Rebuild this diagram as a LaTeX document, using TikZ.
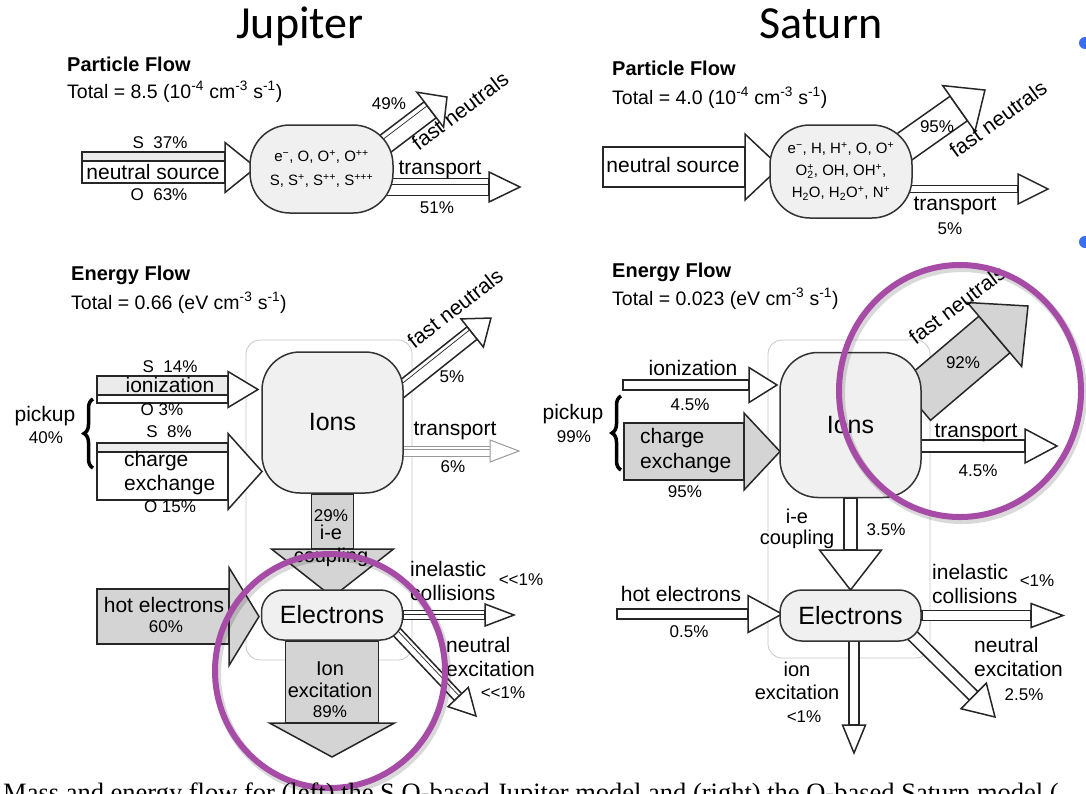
\documentclass[tikz,border=0pt]{standalone}
\usepackage{fontspec}
\setmainfont{Liberation Sans}
\newfontfamily\titlefont{Carlito}
\newfontfamily\captionfont{Liberation Serif}
\usepackage{tikz}
\usetikzlibrary{
  calc,
  backgrounds,
  decorations.pathreplacing,
}

\definecolor{ringpurple}{RGB}{166,76,166}
\definecolor{bulletblue}{RGB}{58,110,240}

% fat flow arrow: [style]{tail}{tip}{half shaft}{half head}{head length}
\newcommand{\flowarrow}[6][]{%
  \path let \p1=(#2), \p2=(#3) in \pgfextra{%
    \pgfmathsetmacro\flowang{atan2(\y2-\y1,\x2-\x1)}%
    \pgfmathsetmacro\flowlen{veclen(\x2-\x1,\y2-\y1)}%
    \xdef\flowang{\flowang}\xdef\flowlen{\flowlen}};%
  \xdef\flowhead{#6}%
  \begin{scope}[shift={(#2)}, rotate=\flowang]
    \draw[flowbody, #1] (0,-#4) rectangle ({\flowlen-#6},#4);
    \draw[flowbody, #1] ({\flowlen-#6},-#5) -- (\flowlen,0) -- ({\flowlen-#6},#5) -- cycle;
  \end{scope}}
% strip inside the shaft of the last flow arrow
\newcommand{\flowstrip}[4][]{%
  \begin{scope}[shift={(#2)}, rotate=\flowang]
    \draw[flowbody, #1] (0,#3) rectangle ({\flowlen-\flowhead},#4);
  \end{scope}}
% thin line along the shaft of the last flow arrow
\newcommand{\flowsplit}[3][]{%
  \begin{scope}[shift={(#2)}, rotate=\flowang]
    \draw[flowbody, line width=0.7pt, #1] (0,#3) -- ({\flowlen-\flowhead},#3);
  \end{scope}}

\begin{document}
\begin{tikzpicture}[
  x=1pt, y=-1pt,
  flowbody/.style={draw=black!85, line width=1.5pt, fill=white, line join=miter},
  grayfill/.style={fill=black!17},
  stripfill/.style={fill=black!8},
  pane/.style={draw=black!22, line width=0.8pt, rounded corners=14pt},
  blob/.style={draw=black!80, line width=1.5pt, fill=black!6, inner sep=0pt},
  lbl/.style={inner sep=0pt, font=\fontsize{21}{24}\selectfont},
  pct/.style={inner sep=0pt, font=\fontsize{17}{19}\selectfont},
  big/.style={font=\fontsize{25}{27}\selectfont},
  spec/.style={align=center, font=\fontsize{15}{24}\selectfont},
  heading/.style={inner sep=0pt, anchor=west, font=\bfseries\fontsize{20}{22}\selectfont},
  total/.style={inner sep=0pt, anchor=west, font=\fontsize{19.5}{22}\selectfont},
  planet/.style={inner sep=0pt, anchor=base, font=\titlefont\fontsize{46}{48}\selectfont},
  ring/.style={draw=ringpurple, line width=6pt},
  bracket/.style={line width=3.5pt, decorate, decoration={brace, amplitude=9pt}},
]
  \useasboundingbox (0,0) rectangle (1086,793);

  % Titles
  \node[planet] (jupiter) at (300,38) {Jupiter};
  \node[planet] (saturn)  at (821,38) {Saturn};

  % Arrow ends
  \coordinate (jpNSTail) at (82,167.5);   \coordinate (jpNSTip) at (256,167.5);
  \coordinate (jpFNTail) at (372,154);    \coordinate (jpFNTip) at (447,97);
  \coordinate (jpTrTail) at (385,187);    \coordinate (jpTrTip) at (520,187);
  \coordinate (spNSTail) at (603,167);    \coordinate (spNSTip) at (780,167);
  \coordinate (spFNTail) at (890,157);    \coordinate (spFNTip) at (985,90);
  \coordinate (spTrTail) at (900,189);    \coordinate (spTrTip) at (1048,189);
  \coordinate (jeIzTail) at (97,389.5);   \coordinate (jeIzTip) at (258,389.5);
  \coordinate (jeCXTail) at (97,471.5);   \coordinate (jeCXTip) at (262,471.5);
  \coordinate (jeFNTail) at (398,392);    \coordinate (jeFNTip) at (491,318);
  \coordinate (jeTrTail) at (400,451);    \coordinate (jeTrTip) at (519,451);
  \coordinate (jeIETip) at (332.5,597);
  \coordinate (jeHotTail) at (97,616.5);  \coordinate (jeHotTip) at (259,616.5);
  \coordinate (jeIXTip) at (332,757);
  \coordinate (jeInTip) at (514,615);
  \coordinate (jeNXTail) at (393,628);    \coordinate (jeNXTip) at (476,716);
  \coordinate (seIzTail) at (623,385);    \coordinate (seIzTip) at (777,385);
  \coordinate (seCXTail) at (624,451.5);  \coordinate (seCXTip) at (780,451.5);
  \coordinate (seFNTail) at (915,402);    \coordinate (seFNTip) at (1028,306);
  \coordinate (seTrTail) at (921,446);    \coordinate (seTrTip) at (1057,446);
  \coordinate (seIETip) at (850.5,590);
  \coordinate (seHotTail) at (617,614);   \coordinate (seHotTip) at (782,614);
  \coordinate (seInTip) at (1063,615.5);
  \coordinate (seNXTail) at (910,633);    \coordinate (seNXTip) at (995,717);
  \coordinate (seIXTail) at (854,640);    \coordinate (seIXTip) at (854,753);
  \coordinate (jeBraceLow) at (93,468);   \coordinate (jeBraceHigh) at (93,399);
  \coordinate (seBraceLow) at (621,470);  \coordinate (seBraceHigh) at (621,396);

  % Boxes
  \node[blob, spec, rounded corners=40pt, minimum width=143pt, minimum height=88pt] (jpBlob) at (321.5,169)
    {e\textsuperscript{−}, O, O\textsuperscript{+}, O\textsuperscript{++}\\S, S\textsuperscript{+}, S\textsuperscript{++}, S\textsuperscript{+++}};
  \node[blob, spec, font=\fontsize{15}{22}\selectfont, rounded corners=40pt, minimum width=142pt, minimum height=93pt] (spBlob) at (841,171.5)
    {e\textsuperscript{−}, H, H\textsuperscript{+}, O, O\textsuperscript{+}\\O\rlap{\textsubscript{2}}\textsuperscript{+}, OH, OH\textsuperscript{+},\\H\textsubscript{2}O, H\textsubscript{2}O\textsuperscript{+}, N\textsuperscript{+}};
  \node[blob, big, rounded corners=38pt, minimum width=141pt, minimum height=141pt] (jeIons) at (332.5,422.5) {Ions};
  \node[blob, big, rounded corners=22pt, minimum width=141pt, minimum height=50pt]  (jeElec) at (332,615) {Electrons};
  \node[blob, big, rounded corners=38pt, minimum width=141pt, minimum height=145pt] (seIons) at (850.5,425) {Ions};
  \node[blob, big, rounded corners=22pt, minimum width=141pt, minimum height=51pt]  (seElec) at (850.5,615.5) {Electrons};

  \begin{scope}[on background layer]
    \draw[pane] (246,340) rectangle (412,660);
    \draw[pane] (768,340) rectangle (930,658);

    % Jupiter particle flow
    \flowarrow{jpNSTail}{jpNSTip}{15.5}{25}{31}
    \flowstrip[stripfill]{jpNSTail}{-15.5}{-6.5}
    \flowarrow{jpFNTail}{jpFNTip}{10}{22}{21}
    \flowsplit{jpFNTail}{-5}
    \flowarrow{jpTrTail}{jpTrTip}{8.5}{15}{31}
    \flowsplit{jpTrTail}{-3}

    % Saturn particle flow
    \flowarrow{spNSTail}{spNSTip}{20}{33}{35}
    \flowarrow{spFNTail}{spFNTip}{15}{28}{32}
    \flowarrow{spTrTail}{spTrTip}{3.5}{15}{30}

    % Jupiter energy flow
    \flowarrow{jeIzTail}{jeIzTip}{13.5}{18}{30}
    \flowstrip[stripfill]{jeIzTail}{-13.5}{5.5}
    \flowarrow{jeCXTail}{jeCXTip}{28.5}{38}{34}
    \flowstrip[stripfill]{jeCXTail}{-28.5}{-19.5}
    \flowarrow{jeFNTail}{jeFNTip}{8}{18}{24}
    \flowsplit{jeFNTail}{-4}
    \flowarrow[draw=black!40, line width=1pt]{jeTrTail}{jeTrTip}{5}{11}{29}
    \flowsplit[draw=black!40]{jeTrTail}{-1.5}
    \flowarrow[grayfill]{jeIons.south}{jeIETip}{21}{61}{48}
    \flowarrow[grayfill]{jeHotTail}{jeHotTip}{27.5}{49}{30}
    \flowarrow[grayfill]{jeElec.south}{jeIXTip}{46.5}{62.5}{34}
    \flowarrow{jeElec.east}{jeInTip}{4.5}{11}{29}
    \flowsplit{jeElec.east}{-1}
    \flowarrow{jeNXTail}{jeNXTip}{5}{14}{26}
    \flowsplit{jeNXTail}{-1.5}

    % Saturn energy flow
    \flowarrow{seIzTail}{seIzTip}{5}{17.5}{28}
    \flowarrow[grayfill]{seCXTail}{seCXTip}{28.5}{38.5}{36}
    \flowarrow[grayfill]{seFNTail}{seFNTip}{24}{42}{44}
    \flowarrow{seTrTail}{seTrTip}{6}{17}{32}
    \flowarrow{seIons.south}{seIETip}{6.5}{31}{40}
    \flowarrow{seHotTail}{seHotTip}{5}{18.5}{34}
    \flowarrow{seElec.east}{seInTip}{5}{12}{32}
    \flowarrow{seNXTail}{seNXTip}{6}{18}{30}
    \flowarrow{seIXTail}{seIXTip}{5}{11.5}{28}
  \end{scope}

  % Pickup braces
  \draw[bracket] (jeBraceLow) -- (jeBraceHigh);
  \draw[bracket] (seBraceLow) -- (seBraceHigh);

  % Jupiter particle labels
  \node[heading] (jpHead) at (67,64) {Particle Flow};
  \node[total] (jpTotal) at (67,92) {Total = 8.5 (10\textsuperscript{-4} cm\textsuperscript{-3} s\textsuperscript{-1})};
  \node[pct] (jpS37) at (160,143) {S\ \ 37\%};
  \node[lbl] (jpNSLbl) at (153,172) {neutral source};
  \node[pct] (jpO63) at (159,195) {O\ \ 63\%};
  \node[lbl, rotate=37] (jpFNLbl) at (460,111) {fast neutrals};
  \node[pct] (jp49) at (389,104) {49\%};
  \node[lbl] (jpTrLbl) at (440,170) {transport};
  \node[pct] (jp51) at (437,208) {51\%};

  % Saturn particle labels
  \node[heading] (spHead) at (612,68) {Particle Flow};
  \node[total] (spTotal) at (612,98) {Total = 4.0 (10\textsuperscript{-4} cm\textsuperscript{-3} s\textsuperscript{-1})};
  \node[lbl] (spNSLbl) at (673,165) {neutral source};
  \node[pct] (sp95) at (937,127) {95\%};
  \node[lbl, rotate=36] (spFNLbl) at (998,119) {fast neutrals};
  \node[lbl] (spTrLbl) at (955,206) {transport};
  \node[pct] (sp5) at (950,229) {5\%};

  % Jupiter energy labels
  \node[heading] (jeHead) at (71,275) {Energy Flow};
  \node[total] (jeTotal) at (71,303) {Total = 0.66 (eV cm\textsuperscript{-3} s\textsuperscript{-1})};
  \node[pct] (jeS14) at (170,367) {S\ \ 14\%};
  \node[lbl] (jeIzLbl) at (170,385) {ionization};
  \node[pct] (jeO3) at (162,410) {O\ 3\%};
  \node[pct] (jeS8) at (169,432) {S\ \ 8\%};
  \node[lbl, align=left, anchor=west] (jeCXLbl) at (124,473) {charge\\exchange};
  \node[pct] (jeO15) at (170,507) {O\ 15\%};
  \node[lbl] (jePickup) at (45,416) {pickup};
  \node[pct] (je40) at (46,438) {40\%};
  \node[lbl, rotate=38] (jeFNLbl) at (455,308) {fast neutrals};
  \node[pct] (je5) at (452,377) {5\%};
  \node[lbl] (jeTrLbl) at (455,431) {transport};
  \node[pct] (je6) at (453,467) {6\%};
  \node[pct] (je29) at (331,516) {29\%};
  \node[lbl, align=center, font=\fontsize{20}{23}\selectfont] (jeIELbl) at (331,546) {i-e\\coupling};
  \node[lbl] (jeHotLbl) at (164,605) {hot electrons};
  \node[pct] (je60) at (166,627) {60\%};
  \node[lbl, align=center, font=\fontsize{20}{22}\selectfont] (jeIXLbl) at (330,680) {Ion\\excitation};
  \node[pct] (je89) at (330,712) {89\%};
  \node[lbl, align=left, anchor=west] (jeInLbl) at (410,581) {inelastic\\collisions};
  \node[pct] (jeInPct) at (521,580) {{<}{<}1\%};
  \node[lbl, align=left, anchor=west] (jeNXLbl) at (446,657) {neutral\\excitation};
  \node[pct] (jeNXPct) at (503,693) {{<}{<}1\%};

  % Saturn energy labels
  \node[heading] (seHead) at (612,272) {Energy Flow};
  \node[total] (seTotal) at (612,299) {Total = 0.023 (eV cm\textsuperscript{-3} s\textsuperscript{-1})};
  \node[lbl] (seIzLbl) at (693,368) {ionization};
  \node[pct] (se45a) at (690,405) {4.5\%};
  \node[lbl, align=left, anchor=west, font=\fontsize{21}{25}\selectfont] (seCXLbl) at (640,451) {charge\\exchange};
  \node[pct] (se95) at (685,492) {95\%};
  \node[lbl] (sePickup) at (573,414) {pickup};
  \node[pct] (se99) at (574,437) {99\%};
  \node[lbl, rotate=37] (seFNLbl) at (957,305) {fast neutrals};
  \node[pct] (se92) at (963,363) {92\%};
  \node[lbl] (seTrLbl) at (976,433) {transport};
  \node[pct] (se45b) at (978,471) {4.5\%};
  \node[lbl, align=center, font=\fontsize{20}{21}\selectfont] (seIELbl) at (797,529) {i-e\\coupling};
  \node[pct] (se35) at (886,530) {3.5\%};
  \node[lbl] (seHotLbl) at (681,594) {hot electrons};
  \node[pct] (se05) at (689,632) {0.5\%};
  \node[lbl, align=left, anchor=west] (seInLbl) at (932,584) {inelastic\\collisions};
  \node[pct] (seInPct) at (1037,581) {{<}1\%};
  \node[lbl, align=left, anchor=west] (seNXLbl) at (974,657) {neutral\\excitation};
  \node[pct] (se25) at (1024,695) {2.5\%};
  \node[lbl, align=center, font=\fontsize{20}{23}\selectfont] (seIXLbl) at (797,681) {ion\\excitation};
  \node[pct] (seIXPct) at (804,717) {{<}1\%};

  % Highlight rings
  \draw[ring, draw=black, opacity=0.15, line width=8pt] (332,674) ellipse [x radius=115, y radius=117];
  \draw[ring] (330,671) ellipse [x radius=115, y radius=117];
  \draw[ring, draw=black, opacity=0.15, line width=8pt] (962,394) ellipse [x radius=121, y radius=126];
  \draw[ring] (960,391) ellipse [x radius=121, y radius=126];

  % Slide bullets and caption
  \fill[bulletblue] (1085,43) circle (6);
  \fill[bulletblue] (1085,242) circle (6);
  \node[anchor=base west, inner sep=0pt, font=\captionfont\fontsize{26.5}{28}\selectfont] (caption) at (3,801)
    {Mass and energy flow for (left) the S,O-based Jupiter model and (right) the O-based Saturn model (};
\end{tikzpicture}
\end{document}
